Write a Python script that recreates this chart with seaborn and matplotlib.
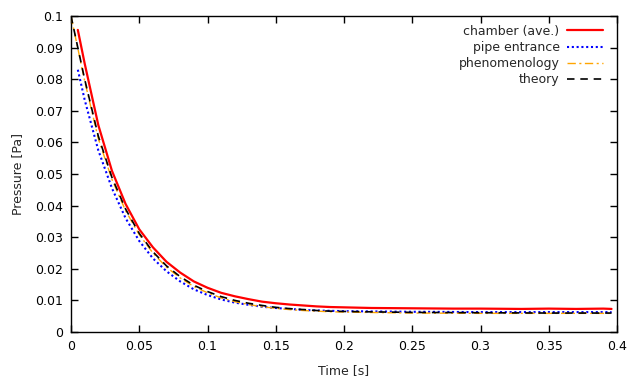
"""
Pressure decay in the chamber: measured vs phenomenology vs theory.
"""
import pandas as pd
import seaborn as sns
import matplotlib.pyplot as plt

# chamber (ave.)
t_chamber = [0.005, 0.01, 0.02, 0.03, 0.04, 0.05, 0.06, 0.07, 0.08, 0.09,
             0.10, 0.11, 0.12, 0.13, 0.14, 0.15, 0.16, 0.17, 0.18, 0.19,
             0.20, 0.22, 0.25, 0.28, 0.30, 0.33, 0.35, 0.37, 0.39, 0.396]
p_chamber = [0.0956, 0.0850, 0.0655, 0.0510, 0.0405, 0.0325, 0.0268, 0.0222, 0.0188, 0.0160,
             0.0140, 0.0124, 0.0113, 0.0104, 0.0096, 0.0091, 0.0087, 0.0084, 0.0081, 0.0079,
             0.0078, 0.0076, 0.0075, 0.0074, 0.0074, 0.0073, 0.0074, 0.0073, 0.0074, 0.0073]

# pipe entrance
t_pipe = [0.005, 0.01, 0.02, 0.03, 0.04, 0.05, 0.06, 0.07, 0.08, 0.09,
          0.10, 0.11, 0.12, 0.13, 0.14, 0.15, 0.16, 0.17, 0.18, 0.19,
          0.20, 0.25, 0.30, 0.35, 0.396]
p_pipe = [0.0830, 0.0735, 0.0575, 0.0455, 0.0360, 0.0288, 0.0233, 0.0192, 0.0160, 0.0135,
          0.0117, 0.0103, 0.0093, 0.0086, 0.0080, 0.0076, 0.0073, 0.0070, 0.0068, 0.0067,
          0.0066, 0.0064, 0.0063, 0.0063, 0.0063]

# phenomenology
t_phen = [0.0, 0.01, 0.02, 0.03, 0.04, 0.05, 0.06, 0.07, 0.08, 0.09,
          0.10, 0.11, 0.12, 0.13, 0.14, 0.15, 0.16, 0.17, 0.18, 0.19,
          0.20, 0.25, 0.30, 0.35, 0.396]
p_phen = [0.1000, 0.0795, 0.0612, 0.0483, 0.0384, 0.0308, 0.0250, 0.0205, 0.0171, 0.0144,
          0.0124, 0.0108, 0.0096, 0.0087, 0.0080, 0.0075, 0.0071, 0.0068, 0.0066, 0.0064,
          0.0063, 0.0060, 0.0059, 0.0059, 0.0059]

# theory
t_theory = [0.0, 0.01, 0.02, 0.03, 0.04, 0.05, 0.06, 0.07, 0.08, 0.09,
            0.10, 0.11, 0.12, 0.13, 0.14, 0.15, 0.16, 0.17, 0.18, 0.19,
            0.20, 0.25, 0.30, 0.35, 0.396]
p_theory = [0.1000, 0.0800, 0.0620, 0.0489, 0.0389, 0.0312, 0.0254, 0.0209, 0.0175, 0.0148,
            0.0128, 0.0112, 0.0100, 0.0091, 0.0084, 0.0078, 0.0074, 0.0071, 0.0068, 0.0066,
            0.0065, 0.0062, 0.0061, 0.0060, 0.0060]

x_ticks = [0, 0.05, 0.1, 0.15, 0.2, 0.25, 0.3, 0.35, 0.4]
x_labels = ["0", "0.05", "0.1", "0.15", "0.2", "0.25", "0.3", "0.35", "0.4"]
y_ticks = [0, 0.01, 0.02, 0.03, 0.04, 0.05, 0.06, 0.07, 0.08, 0.09, 0.1]
y_labels = ["0", "0.01", "0.02", "0.03", "0.04", "0.05", "0.06", "0.07", "0.08", "0.09", "0.1"]

sns.set_style("ticks")
plt.rcParams["font.family"] = ["DejaVu Sans"]

fig = plt.figure(figsize=(6.4, 3.84), dpi=100)
ax = fig.add_axes([71 / 640, 52 / 384, 546 / 640, 316 / 384])

series = [
    ("chamber (ave.)", t_chamber, p_chamber, dict(color="#ff0000", lw=1.6, ls="-")),
    ("pipe entrance", t_pipe, p_pipe, dict(color="#0000ff", lw=1.5, ls=(0, (1, 1.3)))),
    ("phenomenology", t_phen, p_phen, dict(color="#ffa500", lw=1.0, ls=(0, (6, 2.5, 1.5, 2.5)))),
    ("theory", t_theory, p_theory, dict(color="#000000", lw=1.2, ls=(0, (4.5, 3.5)))),
]
for i, (name, t, p, style) in enumerate(series):
    df = pd.DataFrame({"t": t, "p": p})
    sns.lineplot(data=df, x="t", y="p", ax=ax, label=name, sort=False,
                 zorder=2 + i, **style)

ax.set_xlim(0, 0.4)
ax.set_ylim(0, 0.1)
ax.set_xticks(x_ticks)
ax.set_xticklabels(x_labels)
ax.set_yticks(y_ticks)
ax.set_yticklabels(y_labels)
ax.tick_params(direction="in", length=5, width=1, top=True, right=True,
               labelsize=9, colors="black", pad=6)
for s in ax.spines.values():
    s.set_visible(True)
    s.set_linewidth(1.0)
    s.set_color("black")

ax.set_xlabel("Time [s]", fontsize=9, labelpad=8)
ax.set_ylabel("Pressure [Pa]", fontsize=9, labelpad=8)

ax.legend(loc="upper right", frameon=False, markerfirst=False, fontsize=9,
          handlelength=2.9, handletextpad=0.6, labelspacing=0.25,
          borderaxespad=0.3, bbox_to_anchor=(0.991, 1.0))

fig.savefig("out.png", dpi=100)
plt.close(fig)
